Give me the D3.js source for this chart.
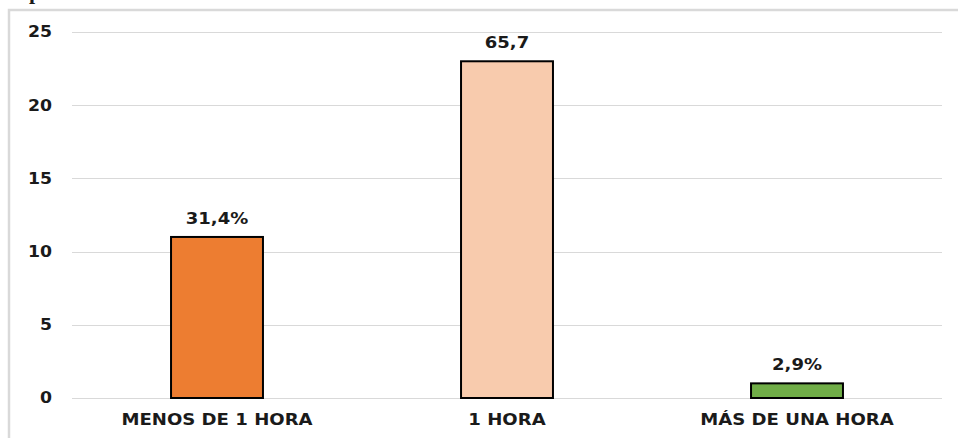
<!DOCTYPE html>
<html>
<head>
<meta charset="utf-8">
<script src="https://cdn.jsdelivr.net/npm/d3@7"></script>
<style>
  html, body { margin: 0; padding: 0; background: #fff; }
  svg { display: block; }
  text { font-family: "DejaVu Sans", Verdana, sans-serif; font-weight: bold; fill: #1a1a1a; }
</style>
</head>
<body>
<svg id="chart" width="958" height="438"></svg>
<script>
// Tiempo dedicado: categorías, valores de las barras y etiquetas mostradas
const categories = ["MENOS DE 1 HORA", "1 HORA", "MÁS DE UNA HORA"];
const values = [11, 23, 1];
const valueLabels = ["31,4%", "65,7", "2,9%"];
const barColors = ["#ED7D31", "#F8CBAD", "#70AD47"];
const yTicks = [0, 5, 10, 15, 20, 25];

const svg = d3.select("#chart");
const W = 958, H = 438;
const margin = { left: 72, right: 16, top: 32, bottom: 40 };
const plotW = W - margin.left - margin.right;   // 870
const plotH = H - margin.top - margin.bottom;   // 366

// ensancha horizontalmente un texto manteniendo su ancla
function stretch(sel, k) {
  sel.each(function () {
    const w = this.getComputedTextLength();
    d3.select(this)
      .attr("textLength", w * k)
      .attr("lengthAdjust", "spacingAndGlyphs");
  });
}

// marco exterior del gráfico (recortado por los bordes de la imagen)
svg.append("rect")
  .attr("x", 9).attr("y", 10)
  .attr("width", 970).attr("height", 460)
  .attr("fill", "none")
  .attr("stroke", "#d9d9d9")
  .attr("stroke-width", 2.5);

// resto del título, cortado por el borde superior
svg.append("text")
  .attr("x", 29).attr("y", -1)
  .style("font-family", "'Liberation Serif', serif")
  .style("font-size", "22px")
  .text("p");

const g = svg.append("g").attr("transform", `translate(${margin.left},${margin.top})`);

const x = d3.scaleBand().domain(categories).range([0, plotW]).paddingInner(0.683).paddingOuter(0.3415);
const y = d3.scaleLinear().domain([0, 25]).range([plotH, 0]);

// líneas de cuadrícula
g.append("g")
  .selectAll("line")
  .data(yTicks)
  .join("line")
  .attr("x1", 0).attr("x2", plotW)
  .attr("y1", d => Math.round(y(d)) + 0.5)
  .attr("y2", d => Math.round(y(d)) + 0.5)
  .attr("stroke", "#d9d9d9")
  .attr("stroke-width", 1.2);

// eje Y
const yAxis = g.append("g")
  .call(d3.axisLeft(y).tickValues(yTicks).tickSize(0).tickPadding(20));
yAxis.select(".domain").remove();
yAxis.selectAll("text")
  .style("font-size", "15px")
  .style("font-family", "'DejaVu Sans', Verdana, sans-serif")
  .style("font-weight", "bold")
  .attr("fill", "#1a1a1a")
  .call(stretch, 1.15);

// barras
g.append("g")
  .selectAll("rect")
  .data(values)
  .join("rect")
  .attr("x", (d, i) => x(categories[i]))
  .attr("y", d => y(d))
  .attr("width", x.bandwidth())
  .attr("height", d => y(0) - y(d))
  .attr("fill", (d, i) => barColors[i])
  .attr("stroke", "#000")
  .attr("stroke-width", 2);

// etiquetas de valor
g.append("g")
  .selectAll("text")
  .data(values)
  .join("text")
  .attr("x", (d, i) => x(categories[i]) + x.bandwidth() / 2)
  .attr("y", d => y(d) - 13)
  .attr("text-anchor", "middle")
  .style("font-size", "15px")
  .text((d, i) => valueLabels[i])
  .call(stretch, 1.2);

// eje X (categorías)
const xAxis = g.append("g")
  .attr("transform", `translate(0,${plotH})`)
  .call(d3.axisBottom(x).tickSize(0).tickPadding(16));
xAxis.select(".domain").remove();
xAxis.selectAll("text")
  .style("font-size", "16px")
  .style("font-family", "'DejaVu Sans', Verdana, sans-serif")
  .style("font-weight", "bold")
  .attr("fill", "#1a1a1a")
  .call(stretch, 1.13);
</script>
</body>
</html>
